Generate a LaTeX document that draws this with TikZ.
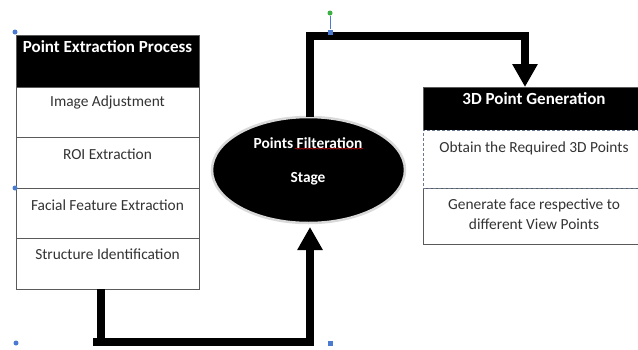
\documentclass[tikz,border=0pt]{standalone}
\usepackage{fontspec}
\setmainfont{Carlito}
\usetikzlibrary{arrows.meta,decorations.pathmorphing,shapes.geometric}
\definecolor{txt}{HTML}{333333}
\definecolor{frame}{HTML}{5A5A5A}
\definecolor{handle}{HTML}{4A7BD0}
\definecolor{rotgreen}{HTML}{3CB043}
\definecolor{selframe}{HTML}{6A7890}

\begin{document}
\begin{tikzpicture}[x=1pt,y=-1pt,
  font=\fontsize{15.4}{18}\selectfont,
  cell/.style={draw=frame, line width=0.9pt, fill=white, anchor=north west,
               inner sep=0pt, minimum width=183pt},
  hdr/.style={cell, fill=black},
  lbl/.style={text=txt, inner sep=0pt, align=center},
  hlbl/.style={text=white, inner sep=0pt, font=\fontsize{17}{20}\selectfont\bfseries},
  elbl/.style={text=white, inner sep=0pt, font=\fontsize{15.4}{18}\selectfont\bfseries},
  conn/.style={line width=8.5pt, line join=miter},
  flow/.style={conn, -{Triangle[width=24pt,length=23pt]}},
  dot/.style={circle, fill=handle, inner sep=0pt, minimum size=5pt},
  sq/.style={rectangle, fill=handle, inner sep=0pt, minimum size=5pt},
]
\useasboundingbox (0,0) rectangle (638,349);
\clip (0,0) rectangle (638,349);

% ---- Point extraction column ----
\node[hdr, minimum height=52pt] (lh) at (16,35) {};
\node[cell, minimum height=50pt] (l1) at (16,87) {};
\node[cell, minimum height=51pt] (l2) at (16,137) {};
\node[cell, minimum height=50pt] (l3) at (16,188) {};
\node[cell, minimum height=51pt] (l4) at (16,238) {};
\node[hlbl] (lht) at (107.5,47) {Point Extraction Process};
\node[lbl] (l1t) at (107.5,102) {Image Adjustment};
\node[lbl] (l2t) at (107.5,154) {ROI Extraction};
\node[lbl] (l3t) at (107.5,205) {Facial Feature Extraction};
\node[lbl] (l4t) at (107.5,254) {Structure Identification};

% ---- Filtering stage ----
\node[ellipse, fill=black, draw=gray!30, line width=2.5pt,
      minimum width=193pt, minimum height=106pt] (flt) at (308.5,170) {};
\node[elbl] (flt1) at (308,143) {Points Filteration};
\node[elbl] (flt2) at (308,179) {Stage};
\draw[red!75!black, line width=0.6pt, decorate,
      decoration={snake, amplitude=0.5pt, segment length=3pt}]
  (flt1.south -| 295,0) -- (flt1.south -| 363,0);

% ---- 3D point generation column ----
\node[hdr, minimum width=222pt, minimum height=43pt] (rh) at (423,87) {};
\node[cell, minimum width=222pt, minimum height=56pt] (r2) at (423,188) {};
\node[cell, minimum width=222pt, minimum height=58pt, draw=selframe,
      densely dashed, line width=0.8pt] (r1) at (423,130) {};
\node[hlbl] (rht) at (534,99) {3D Point Generation};
\node[lbl] (r1t) at (534,148) {Obtain the Required 3D Points};
\node[lbl] (r2t) at (534,214) {Generate face respective to\\[2pt]different View Points};

% ---- connectors ----
\coordinate (a1) at (101,289);
\coordinate (a2) at (101,342);
\coordinate (a3) at (310,342);
\coordinate (a4) at (310,227);
\draw[conn] (a2) -- ++(-8,0);
\draw[flow] (a1) -- (a2) -- (a3) -- (a4);

\coordinate (b1) at (310,117);
\coordinate (b2) at (310,36);
\coordinate (b3) at (525,36);
\coordinate (b4) at (525,87);
\draw[flow] (b1) -- (b2) -- (b3) -- (b4);

% ---- selection handles ----
\node[dot] (h1) at (15,32) {};
\node[dot] (h2) at (15,188) {};
\node[dot] (h3) at (16,343) {};
\node[sq] (h4) at (330,343) {};
\node[sq] (h5) at (330,32) {};
\node[circle, fill=rotgreen, inner sep=0pt, minimum size=5pt] (h6) at (330,13) {};
\draw[handle, line width=0.8pt] (h6) -- (h5);
\end{tikzpicture}
\end{document}
